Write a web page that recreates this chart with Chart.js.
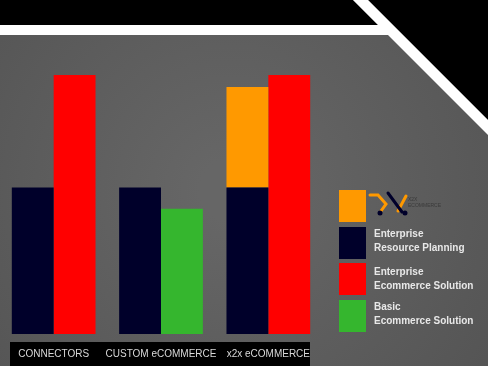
<!DOCTYPE html>
<html><head><meta charset="utf-8">
<script src="https://cdn.jsdelivr.net/npm/chart.js@4/dist/chart.umd.min.js"></script>
<style>html,body{margin:0;padding:0;background:#5a5a5a;overflow:hidden}#wrap{width:488px;height:366px;position:relative}</style>
</head><body><div id="wrap"><canvas id="c" width="488" height="366"></canvas></div>
<script>
const categories = ['CONNECTORS', 'CUSTOM eCOMMERCE', 'x2x eCOMMERCE'];
const erpValues = [56.6, 56.6, 56.6];
const x2xValues = [null, null, 38.8];
const enterpriseValues = [100, null, 100];
const basicValues = [null, 48.4, null];
const seriesNames = ['x2x', 'Enterprise\nResource Planning', 'Enterprise\nEcommerce Solution', 'Basic\nEcommerce Solution'];
const logoText = ['X2X', 'ECOMMERCE'];

const NAVY = '#00002a', ORANGE = '#ff9900', RED = '#ff0000', GREEN = '#35b62e';

const backdrop = {
  id: 'backdrop',
  beforeDraw(chart) {
    const ctx = chart.ctx, W = chart.width, H = chart.height;
    ctx.save();
    const g = ctx.createRadialGradient(230, 190, 30, 230, 190, 340);
    g.addColorStop(0, '#666666');
    g.addColorStop(1, '#535353');
    ctx.fillStyle = g;
    ctx.fillRect(0, 0, W, H);
    // black top band
    ctx.fillStyle = '#000';
    ctx.beginPath();
    ctx.moveTo(0, 0); ctx.lineTo(353, 0); ctx.lineTo(378, 25); ctx.lineTo(0, 25); ctx.closePath(); ctx.fill();
    ctx.beginPath();
    ctx.moveTo(368, 0); ctx.lineTo(488, 0); ctx.lineTo(488, 120); ctx.closePath(); ctx.fill();
    // white stripe
    ctx.fillStyle = '#fff';
    ctx.beginPath();
    ctx.moveTo(353, 0); ctx.lineTo(368, 0); ctx.lineTo(488, 120); ctx.lineTo(488, 135);
    ctx.lineTo(388, 35); ctx.lineTo(0, 35); ctx.lineTo(0, 25); ctx.lineTo(378, 25); ctx.closePath(); ctx.fill();
    // label band
    ctx.fillStyle = '#000';
    ctx.fillRect(10, 342, 300, 24);
    ctx.restore();
  }
};

const legendPlugin = {
  id: 'sideLegend',
  afterDraw(chart) {
    const ctx = chart.ctx;
    const colors = [ORANGE, NAVY, RED, GREEN];
    const tops = [190, 227, 263, 300];
    ctx.save();
    for (let i = 0; i < 4; i++) {
      ctx.fillStyle = colors[i];
      ctx.fillRect(339, tops[i], 27, 32);
    }
    // logo
    ctx.lineCap = 'round';
    ctx.strokeStyle = ORANGE; ctx.lineWidth = 3;
    ctx.beginPath(); ctx.moveTo(370, 195); ctx.lineTo(378, 195); ctx.lineTo(386, 204); ctx.lineTo(381, 211); ctx.stroke();
    ctx.beginPath(); ctx.moveTo(398, 211); ctx.lineTo(406, 196); ctx.stroke();
    ctx.strokeStyle = NAVY;
    ctx.beginPath(); ctx.moveTo(388, 193); ctx.lineTo(402, 212); ctx.stroke();
    ctx.fillStyle = NAVY;
    ctx.beginPath(); ctx.arc(380, 213, 2.5, 0, Math.PI * 2); ctx.fill();
    ctx.beginPath(); ctx.arc(405, 213, 2.5, 0, Math.PI * 2); ctx.fill();
    ctx.fillStyle = '#3a3a3a';
    ctx.font = '5px "Liberation Sans", Arial, sans-serif';
    ctx.textBaseline = 'middle';
    ctx.fillText(logoText[0], 408, 200);
    ctx.fillText(logoText[1], 408, 206);
    // labels
    ctx.fillStyle = '#e8e8e8';
    ctx.font = 'bold 10px "Liberation Sans", Arial, sans-serif';
    const ys = [null, 234, 272, 307];
    for (let i = 1; i < 4; i++) {
      const lines = seriesNames[i].split('\n');
      lines.forEach((l, j) => ctx.fillText(l, 374, ys[i] + j * 14.5));
    }
    ctx.restore();
  }
};

new Chart(document.getElementById('c'), {
  type: 'bar',
  data: {
    labels: categories,
    datasets: [
      { label: seriesNames[1], data: erpValues, backgroundColor: NAVY, stack: 'a' },
      { label: seriesNames[0], data: x2xValues, backgroundColor: ORANGE, stack: 'a' },
      { label: seriesNames[2], data: enterpriseValues, backgroundColor: RED, stack: 'b' },
      { label: seriesNames[3], data: basicValues, backgroundColor: GREEN, stack: 'b' }
    ]
  },
  options: {
    responsive: false,
    animation: false,
    events: [],
    categoryPercentage: 0.78,
    barPercentage: 1.0,
    layout: { padding: { left: 0, right: 166, top: 75, bottom: -8 } },
    plugins: { legend: { display: false }, tooltip: { enabled: false } },
    scales: {
      x: {
        stacked: true,
        grid: { display: false, drawTicks: false },
        border: { display: false },
        ticks: { color: '#d8d8d8', padding: 14, maxRotation: 0, autoSkip: false,
                 font: { family: '"Liberation Sans", Arial, sans-serif', size: 10 } }
      },
      y: { stacked: true, display: false, min: 0, max: 100 }
    }
  },
  plugins: [backdrop, legendPlugin]
});
</script>
</body></html>
